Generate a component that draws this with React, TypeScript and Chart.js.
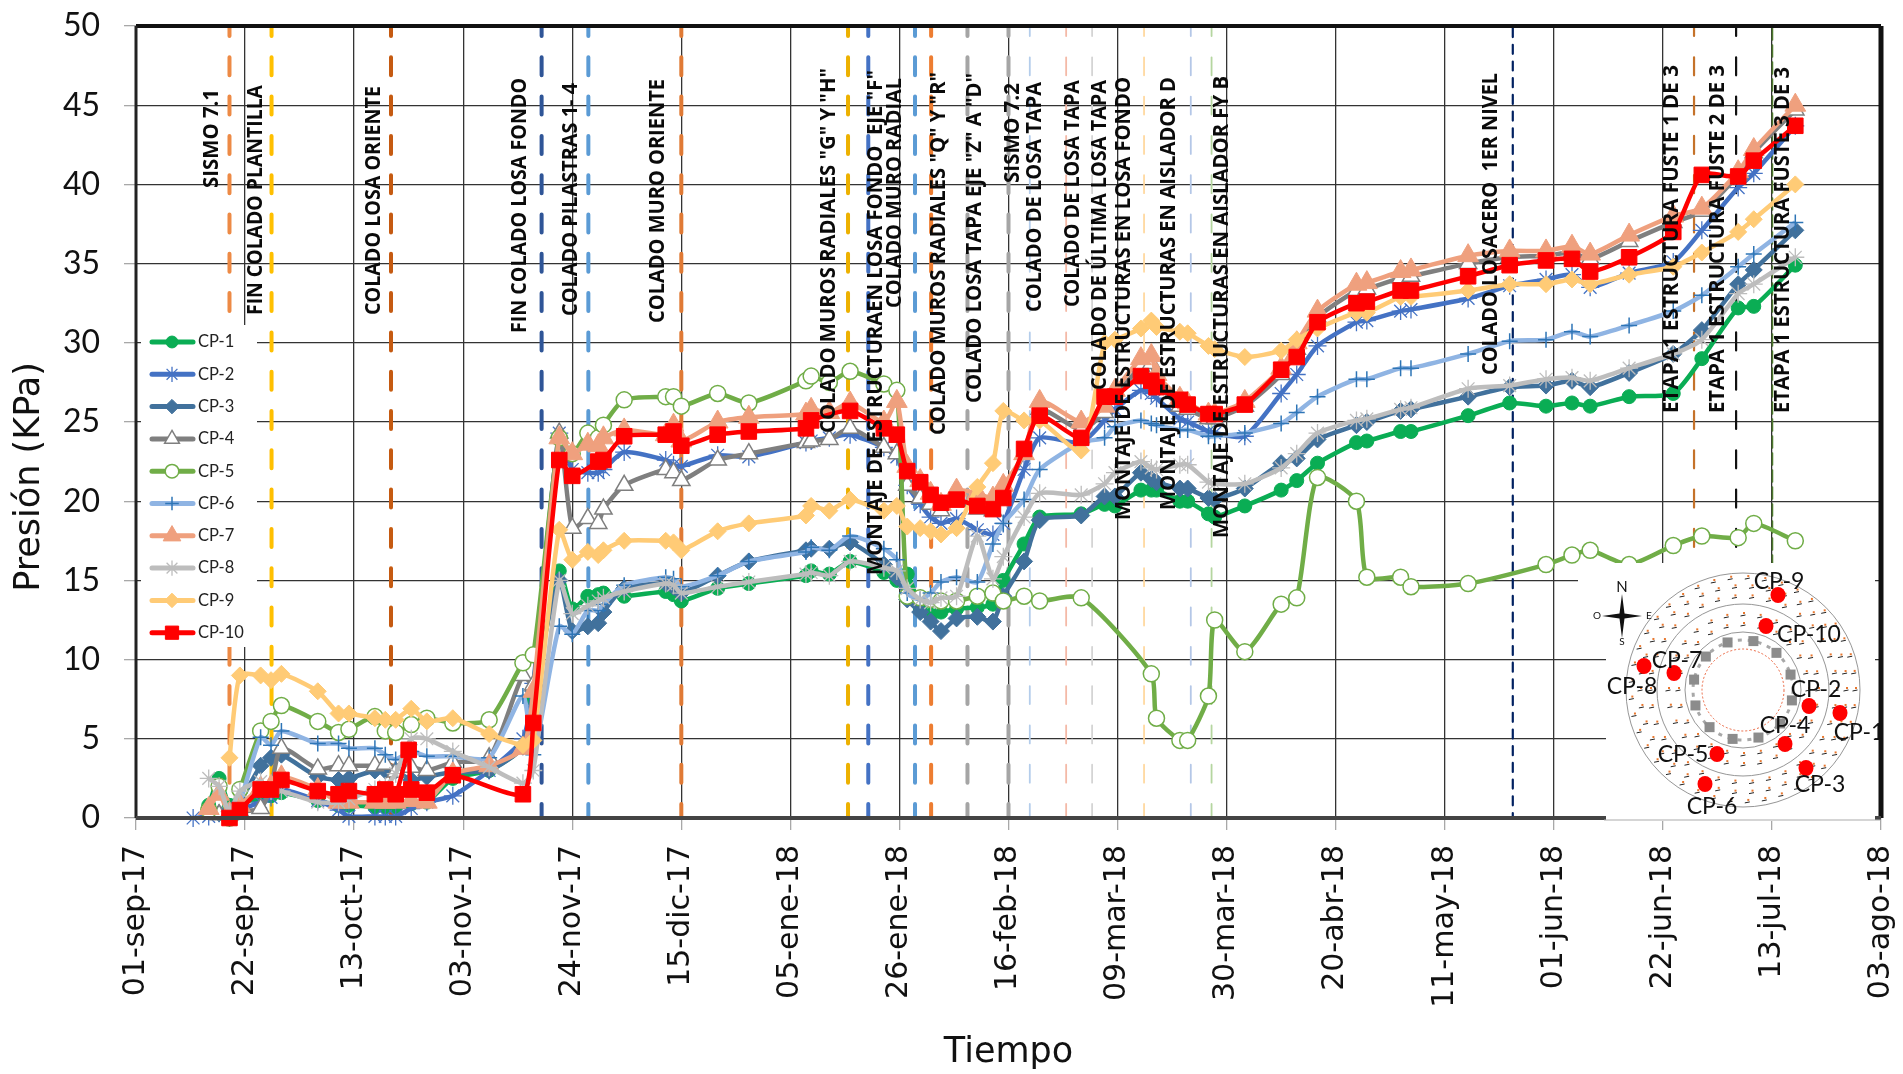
import React, { useEffect, useRef } from "react";
import { Chart, registerables } from "chart.js";
import { drawPoint } from "chart.js/helpers";

Chart.register(...registerables);

const tickDates = ["01-sep-17","22-sep-17","13-oct-17","03-nov-17","24-nov-17","15-dic-17","05-ene-18","26-ene-18","16-feb-18","09-mar-18","30-mar-18","20-abr-18","11-may-18","01-jun-18","22-jun-18","13-jul-18","03-ago-18"];

// days since 01-sep-17
const days = [
  11,14,16,18,20,24,26,28,35,39,
  41,46,48,50,52.5,53,56,61,68,74.5,76.5,
  81.5,84,87,89,90,94,102,103.5,105,112,
  118,129,130,133.5,137.5,144,146.5,148.5,151,153,
  155,158,162,165,167,171,174,182,186.5,188.5,
  193.5,195.5,196.5,201,202.5,206.5,207.7,213.5,220.5,223.5,
  227.5,235,237,243.5,245.5,256.5,264.5,271.5,276.5,280,
  287.5,296,301.5,308.5,311.5,319.5,
];

const cp1 = [
  null,0.8,2.5,0.8,1.0,1.2,1.4,1.6,1.1,0.8,
  0.8,0.7,0.7,0.7,null,0.9,1.0,2.5,3.0,4.5,7.5,
  15.6,13.2,14.0,14.1,14.2,14.0,14.3,14.1,13.7,14.5,
  14.8,15.3,15.6,15.4,16.2,15.5,15.0,15.4,13.3,12.8,
  13.0,13.2,13.3,13.5,15.0,17.3,19.0,19.2,19.8,19.7,
  20.7,20.7,20.7,20.0,20.0,19.2,19.0,19.7,20.7,21.3,
  22.4,23.7,23.8,24.4,24.4,25.4,26.2,26.0,26.2,26.0,
  26.6,26.8,29.0,32.2,32.3,34.9,
];
const cp2 = [
  0,0.1,0.3,0,0.5,1.0,1.3,1.8,1.1,0.5,
  0.1,0.1,0.1,0.1,null,0.6,1.0,1.4,3.0,5.0,8.5,
  24.3,22.0,21.8,21.8,22.0,23.1,22.6,22.3,22.2,22.9,
  22.8,23.7,23.8,24.0,24.2,23.4,22.8,21.0,19.8,19.0,
  18.6,18.9,18.2,17.9,18.6,22.0,24.0,23.7,25.1,25.8,
  27.0,26.8,26.5,25.2,25.0,24.4,24.3,24.1,26.8,28.0,
  29.8,31.3,31.4,32.0,32.1,32.8,33.6,34.0,34.3,33.5,
  34.4,35.1,37.1,39.8,40.7,43.7,
];
const cp3 = [
  null,null,0.3,0.2,1.0,3.3,3.8,4.0,2.6,2.4,
  2.5,3.0,3.0,3.0,null,2.4,2.6,2.9,3.0,4.5,8.0,
  15.0,11.8,12.1,12.3,13.0,14.5,14.8,14.6,14.2,15.3,
  16.2,16.9,17.0,17.0,17.4,16.0,15.2,13.8,13.0,12.4,
  11.8,12.6,12.7,12.4,14.0,16.2,18.8,19.1,20.3,20.3,
  21.8,21.4,21.2,20.8,20.8,20.2,20.1,20.8,22.4,22.7,
  23.9,24.8,25.0,25.7,25.8,26.6,27.2,27.3,27.6,27.2,
  28.1,29.3,30.8,33.7,34.6,37.1,
];
const cp4 = [
  null,null,0.2,0.2,0.4,0.6,2.0,4.4,3.1,3.3,
  3.3,3.3,3.4,2.9,null,3.2,3.0,3.5,3.8,9.0,8.4,
  24.3,18.3,18.9,18.6,19.5,21.0,22.0,21.8,21.3,22.6,
  23.0,23.7,23.8,23.9,24.6,23.4,23.0,21.0,20.2,19.8,
  19.4,20.0,19.5,19.4,20.5,23.0,25.8,24.5,25.6,26.6,
  28.5,28.7,27.5,26.0,25.8,25.2,25.2,26.0,28.0,29.6,
  31.6,33.3,33.4,34.1,34.2,35.0,35.4,35.5,35.7,35.3,
  36.4,37.6,38.3,40.6,42.0,44.7,
];
const cp5 = [
  null,0.5,2.0,0,1.8,5.5,6.1,7.1,6.1,5.4,
  5.6,6.4,5.5,5.4,null,5.9,6.3,6.0,6.2,9.8,10.3,
  24.0,23.0,24.3,24.0,24.8,26.4,26.6,26.6,26.0,26.8,
  26.2,27.6,27.9,27.5,28.2,27.4,27.0,14.0,13.9,13.8,
  13.7,13.7,14.0,14.2,13.7,14.0,13.7,13.9,null,null,
  null,9.1,6.3,4.9,4.9,7.7,12.5,10.5,13.5,13.9,
  21.5,20.0,15.2,15.2,14.6,14.8,null,16.0,16.6,16.9,
  16.0,17.2,17.8,17.7,18.6,17.5,
];
const cp6 = [
  null,null,null,0,1.0,5.1,4.6,5.5,4.7,4.7,
  4.4,4.4,4.0,3.7,null,4.2,3.9,3.9,3.8,7.7,4.0,
  12.1,11.6,13.1,13.1,13.5,14.7,15.2,15.1,14.6,15.3,
  16.2,16.8,17.1,16.9,17.8,17.0,16.3,14.2,13.8,14.2,
  14.9,15.2,14.9,17.3,18.6,20.1,22.0,23.7,24.0,24.7,
  25.1,24.9,24.8,24.5,24.5,24.1,24.1,24.3,24.9,25.6,
  26.6,27.7,27.7,28.4,28.4,29.3,30.1,30.2,30.7,30.4,
  31.1,32.0,33.0,34.8,35.6,37.6,
];
const cp7 = [
  null,0.6,1.5,0.3,0.8,1.9,2.0,2.6,1.8,1.0,
  1.0,1.0,1.0,1.0,null,1.1,1.0,2.8,3.3,4.4,8.0,
  24.0,23.0,23.6,23.5,24.0,24.5,24.2,24.8,23.8,25.0,
  25.3,25.5,25.8,25.6,26.2,25.0,26.3,22.2,21.3,20.5,
  19.8,20.7,20.5,20.2,21.0,23.0,26.3,25.0,26.0,27.0,
  29.0,29.2,28.0,26.5,26.2,25.5,25.5,26.3,28.4,30.0,
  32.0,33.7,33.8,34.5,34.6,35.5,35.8,35.8,36.1,35.6,
  36.8,38.0,38.5,40.8,42.2,45.0,
];
const cp8 = [
  null,2.5,2.0,0.4,1.7,2.3,1.7,1.7,1.0,1.0,
  1.2,1.8,2.0,2.8,null,5.0,5.0,4.2,3.2,2.2,3.0,
  15.0,12.9,13.4,13.7,13.9,14.3,14.8,14.7,14.2,14.6,
  14.9,15.4,15.5,15.3,16.2,15.8,15.6,14.5,13.8,13.6,
  13.9,14.0,17.8,15.1,16.5,19.0,20.5,20.4,21.1,21.8,
  22.5,22.1,22.0,22.3,22.3,21.2,21.1,21.1,22.1,23.0,
  24.3,25.1,25.2,25.8,25.9,27.1,27.3,27.7,27.8,27.6,
  28.4,29.3,30.2,33.1,33.7,35.4,
];
const cp9 = [
  null,null,null,3.8,9.0,9.0,8.7,9.1,8.0,6.6,
  6.6,6.3,6.2,6.2,null,6.9,6.1,6.3,5.3,4.6,4.9,
  18.2,16.3,16.8,16.6,16.9,17.5,17.5,17.4,16.9,18.1,
  18.6,19.1,19.7,19.4,20.1,19.4,19.7,18.4,18.3,18.1,
  17.9,18.3,20.9,22.4,25.7,25.1,25.1,23.2,30.0,30.2,
  30.9,31.4,31.0,30.7,30.6,29.8,29.6,29.1,29.5,30.2,
  30.9,31.9,31.9,32.9,32.9,33.3,33.7,33.7,34.0,33.7,
  34.3,34.8,35.7,37.0,37.8,40.0,
];
const cp10 = [
  null,null,null,0,0.5,1.8,1.8,2.4,1.7,1.5,
  1.7,1.5,1.8,1.5,4.3,1.8,1.6,2.7,null,1.5,6.0,
  22.6,21.6,null,22.5,22.6,24.1,24.2,24.4,23.5,24.2,
  24.4,24.6,25.1,null,25.7,24.6,24.2,21.9,21.2,20.4,
  19.9,20.1,19.7,19.5,20.2,23.3,25.4,24.0,26.6,26.6,
  27.9,27.6,27.2,26.4,26.1,25.5,25.5,26.1,28.3,29.1,
  31.3,32.5,32.6,33.3,33.3,34.2,34.9,35.2,35.3,34.5,
  35.4,37.0,40.6,40.5,41.5,43.7,
];

const seriesDefs = [
  { label: "CP-1", values: cp1, color: "#0AAD54", pointStyle: "circle", radius: 7, fill: "#0AAD54", edge: "#0AAD54", edgeW: 1 },
  { label: "CP-2", values: cp2, color: "#4472C4", pointStyle: "star", radius: 9, fill: "#4472C4", edge: "#4472C4", edgeW: 1.3 },
  { label: "CP-3", values: cp3, color: "#41719C", pointStyle: "rectRot", radius: 8.5, fill: "#41719C", edge: "#41719C", edgeW: 1 },
  { label: "CP-4", values: cp4, color: "#7F7F7F", pointStyle: "triangle", radius: 10, fill: "#FFFFFF", edge: "#7F7F7F", edgeW: 1.5 },
  { label: "CP-5", values: cp5, color: "#70AD47", pointStyle: "circle", radius: 8, fill: "#FFFFFF", edge: "#70AD47", edgeW: 1.5 },
  { label: "CP-6", values: cp6, color: "#8FB4E3", pointStyle: "cross", radius: 8, fill: "#2E75B6", edge: "#2E75B6", edgeW: 1.5 },
  { label: "CP-7", values: cp7, color: "#EFA07E", pointStyle: "triangle", radius: 12, fill: "#EFA07E", edge: "#EFA07E", edgeW: 1 },
  { label: "CP-8", values: cp8, color: "#BDBDBD", pointStyle: "star", radius: 9, fill: "#BDBDBD", edge: "#BDBDBD", edgeW: 1.3 },
  { label: "CP-9", values: cp9, color: "#FFCB76", pointStyle: "rectRot", radius: 8.5, fill: "#FFCB76", edge: "#FFCB76", edgeW: 1 },
  { label: "CP-10", values: cp10, color: "#FF0000", pointStyle: "rect", radius: 11, fill: "#FF0000", edge: "#FF0000", edgeW: 1 },
];

const eventDays = [18, 26.1, 49.1, 78.1, 87.1, 105, 137.1, 141, 150, 153.1, 160.1, 168, 172.1, 179.1, 184.1, 194.1, 203.1, 207.1, 265.1, 300, 308.1, 315.1];
const eventColors = ["#ED8A45","#FFC000","#C55A11","#2F5597","#5B9BD5","#E07A35","#EDB100","#4472C4","#5B9BD5","#ED7D31","#A5A5A5","#A5A5A5","#B4CDEB","#F4B9A7","#D4D4D4","#FFD9A0","#B4C7E7","#B5D6A0","#002060","#C5722A","#111111","#4E7A2E"];
const eventWidths = [4,4,4,4,4,4,4,4,4,4,4,4,1.8,1.8,1.8,1.8,1.8,1.8,2.2,2.2,2.2,1.6];

const eventTexts = [
  "SISMO 7.1","FIN COLADO PLANTILLA","COLADO LOSA ORIENTE","FIN COLADO LOSA FONDO","COLADO PILASTRAS 1- 4",
  "COLADO MURO ORIENTE","COLADO MUROS RADIALES \"G\" Y \"H\"","MONTAJE DE ESTRUCTURAEN LOSA FONDO  EJE \"F\"","COLADO MURO RADIAL",
  "COLADO MUROS RADIALES \"Q\" Y \"R\"","COLADO LOSA TAPA EJE \"Z\" A \"D\"","SISMO 7.2","COLADO DE LOSA TAPA","COLADO DE LOSA TAPA",
  "COLADO DE ÚLTIMA LOSA TAPA","MONTAJE DE ESTRUCTURAS EN LOSA FONDO","MONTAJE DE ESTRUCTURAS EN AISLADOR D","MONTAJE DE ESTRUCTURAS EN AISLADOR FY B",
  "COLADO LOSACERO  1ER NIVEL","ETAPA1 ESTRUCTURA FUSTE 1 DE 3","ETAPA 1 ESTRUCTURA FUSTE 2 DE 3","ETAPA 1 ESTRUCTURA FUSTE 3 DE 3",
];
const eventTextX = [212,256,374,520,571,658,829,876,895,939,975,1013,1035,1073,1100,1124,1169,1222,1491,1672,1718,1783];
const eventTextBottom = [188,315,315,333,316,323,433,575,308,435,403,183,312,307,390,520,510,538,375,413,413,413];
const eventTextLength = [99,230,229,255,233,244,365,505,230,363,330,100,230,227,310,443,433,462,302,348,348,346];

const insetDots = [[1840,713],[1809,706],[1806,768],[1785,744],[1717,754],[1705,784],[1674,673],[1644,666],[1778,595],[1766,626]];
const insetLabels = [[1859,733],[1816,690],[1820,785],[1785,726],[1683,755],[1712,807],[1677,661],[1632,687],[1779,582],[1809,635]];

const UI = "'Lato', sans-serif";
const DJ = "'DejaVu Sans', sans-serif";

function drawInset(ctx: CanvasRenderingContext2D) {
  ctx.save();
  ctx.fillStyle = "#fff";
  ctx.fillRect(1578, 563, 28, 30);
  ctx.fillRect(1606, 563, 269, 258);
  ctx.strokeStyle = "#ababab";
  ctx.lineWidth = 1.2;
  ctx.beginPath();
  ctx.moveTo(1604, 820);
  ctx.lineTo(1881, 820);
  ctx.stroke();

  const cx = 1743, cy = 690;
  // anchor ticks on radial spokes
  const rings = [65, 75, 93, 103, 112];
  rings.forEach((r) => {
    const n = Math.round((2 * Math.PI * r) / 17);
    for (let k = 0; k < n; k++) {
      const a = (k / n) * Math.PI * 2;
      const x = cx + Math.cos(a) * r, y = cy + Math.sin(a) * r;
      ctx.strokeStyle = "#222";
      ctx.lineWidth = 1;
      ctx.beginPath();
      ctx.moveTo(x - 2.5, y + 1);
      ctx.lineTo(x + 2.5, y);
      ctx.stroke();
      ctx.fillStyle = "#E8772E";
      ctx.fillRect(x, y - 3, 2, 2);
    }
  });
  ctx.strokeStyle = "#8a8a8a";
  ctx.lineWidth = 0.9;
  [117, 86, 58].forEach((r) => {
    ctx.beginPath();
    ctx.arc(cx, cy, r, 0, Math.PI * 2);
    ctx.stroke();
  });
  ctx.strokeStyle = "#E8572E";
  ctx.setLineDash([2, 2]);
  ctx.beginPath();
  ctx.arc(cx, cy, 41, 0, Math.PI * 2);
  ctx.stroke();
  ctx.setLineDash([4, 6]);
  ctx.strokeStyle = "#a8a8a8";
  ctx.lineWidth = 3;
  ctx.beginPath();
  ctx.arc(cx, cy, 50, 0, Math.PI * 2);
  ctx.stroke();
  ctx.setLineDash([]);
  ctx.fillStyle = "#8c8c8c";
  for (let k = 0; k < 12; k++) {
    const a = ((k + 0.4) / 12) * Math.PI * 2;
    ctx.fillRect(cx + Math.cos(a) * 50 - 5, cy + Math.sin(a) * 50 - 5, 10, 10);
  }

  // compass
  const qx = 1622, qy = 616;
  ctx.fillStyle = "#111";
  ctx.beginPath();
  ctx.moveTo(qx, qy - 22);
  ctx.lineTo(qx + 2.5, qy - 2.5);
  ctx.lineTo(qx + 20, qy);
  ctx.lineTo(qx + 2.5, qy + 2.5);
  ctx.lineTo(qx, qy + 22);
  ctx.lineTo(qx - 2.5, qy + 2.5);
  ctx.lineTo(qx - 20, qy);
  ctx.lineTo(qx - 2.5, qy - 2.5);
  ctx.closePath();
  ctx.fill();
  ctx.textAlign = "center";
  ctx.textBaseline = "middle";
  ctx.font = `15px ${UI}`;
  ctx.fillText("N", qx, 587);
  ctx.font = `10px ${UI}`;
  ctx.fillText("S", qx, 642);
  ctx.fillText("O", 1597, 616);
  ctx.fillText("E", 1649, 616);

  // instrument positions
  ctx.fillStyle = "#FF0000";
  insetDots.forEach(([x, y]) => {
    ctx.beginPath();
    ctx.ellipse(x, y, 7.5, 8, 0, 0, Math.PI * 2);
    ctx.fill();
  });
  ctx.fillStyle = "#111";
  ctx.font = `23px ${UI}`;
  seriesDefs.forEach((s, i) => {
    const [x, y] = insetLabels[i];
    ctx.fillText(s.label, x, y);
  });
  ctx.restore();
}

const overlay = {
  id: "overlay",
  afterDatasetsDraw(chart: any) {
    const { ctx, chartArea: a } = chart;
    ctx.save();

    // event captions
    ctx.fillStyle = "#0a0a0a";
    ctx.font = "700 21px 'Open Sans', sans-serif";
    ctx.textAlign = "left";
    ctx.textBaseline = "middle";
    eventTexts.forEach((t, i) => {
      const w = ctx.measureText(t).width;
      ctx.save();
      ctx.translate(eventTextX[i], eventTextBottom[i]);
      ctx.rotate(-Math.PI / 2);
      ctx.scale(eventTextLength[i] / w, 1);
      ctx.fillText(t, 0, 0);
      ctx.restore();
    });

    // frame
    ctx.strokeStyle = "#111";
    ctx.lineWidth = 4;
    ctx.beginPath();
    ctx.moveTo(a.left, a.top);
    ctx.lineTo(a.right, a.top);
    ctx.stroke();
    ctx.lineWidth = 5;
    ctx.beginPath();
    ctx.moveTo(a.right, a.top);
    ctx.lineTo(a.right, a.bottom);
    ctx.stroke();
    ctx.lineWidth = 3;
    ctx.strokeStyle = "#222";
    ctx.beginPath();
    ctx.moveTo(a.left, a.top);
    ctx.lineTo(a.left, a.bottom);
    ctx.stroke();
    ctx.strokeStyle = "#444";
    ctx.lineWidth = 4;
    ctx.beginPath();
    ctx.moveTo(a.left, a.bottom);
    ctx.lineTo(a.right, a.bottom);
    ctx.stroke();

    // legend panel
    ctx.fillStyle = "#fff";
    ctx.fillRect(141, 325, 116, 322);
    seriesDefs.forEach((s, i) => {
      const y = 342 + i * 32.3;
      ctx.strokeStyle = s.color;
      ctx.lineWidth = 5;
      ctx.lineCap = "round";
      ctx.beginPath();
      ctx.moveTo(152, y);
      ctx.lineTo(193, y);
      ctx.stroke();
      ctx.lineCap = "butt";
      ctx.fillStyle = s.fill;
      ctx.strokeStyle = s.edge;
      ctx.lineWidth = s.edgeW;
      drawPoint(ctx, { pointStyle: s.pointStyle, radius: s.radius * 0.85, borderWidth: s.edgeW, rotation: 0 }, 172, y);
      ctx.fillStyle = "#222";
      ctx.font = `16.5px ${UI}`;
      ctx.textAlign = "left";
      ctx.textBaseline = "middle";
      ctx.fillText(s.label, 198, y);
    });

    drawInset(ctx);

    // y title sits below the axis mid-point in the reference
    ctx.save();
    ctx.translate(30, 477);
    ctx.rotate(-Math.PI / 2);
    ctx.fillStyle = "#111";
    ctx.font = `35px ${DJ}`;
    ctx.textAlign = "center";
    ctx.textBaseline = "middle";
    ctx.fillText("Presión (KPa)", 0, 0);
    ctx.restore();
    ctx.restore();
  },
};

export default function App() {
  const ref = useRef<HTMLCanvasElement | null>(null);
  useEffect(() => {
    document.body.style.margin = "0";
    const eventSets = eventDays.map((d, i) => {
      const dash = i === 18 ? [9, 7.7] : i === 21 ? [12, 5] : [18, 21.3];
      return {
        label: "evento-" + i,
        data: [{ x: d, y: 0 }, { x: d, y: 50 }],
        borderColor: eventColors[i],
        borderWidth: eventWidths[i],
        borderDash: dash,
        borderDashOffset: 4,
        borderCapStyle: "round",
        pointRadius: 0,
        order: 100,
      };
    });
    const dataSets = seriesDefs.map((s, i) => ({
      label: s.label,
      data: days.map((d, k) => ({ x: d, y: s.values[k] })),
      borderColor: s.color,
      borderWidth: 4.5,
      tension: 0.22,
      spanGaps: true,
      clip: false,
      pointStyle: s.pointStyle,
      pointRadius: s.radius,
      pointBackgroundColor: s.fill,
      pointBorderColor: s.edge,
      pointBorderWidth: s.edgeW,
      order: 20 - i,
    }));
    const chart = new Chart(ref.current!, {
      type: "line",
      data: { datasets: [...dataSets, ...eventSets] as any },
      plugins: [overlay],
      options: {
        responsive: false,
        animation: false,
        parsing: false,
        normalized: true,
        layout: { autoPadding: false, padding: { left: 0, top: 26, right: 22, bottom: 0 } },
        plugins: { legend: { display: false }, tooltip: { enabled: false } },
        scales: {
          x: {
            type: "linear",
            min: 0,
            max: 336,
            afterFit: (s: any) => { s.height = 256; s.paddingLeft = 0; s.paddingRight = 0; },
            ticks: {
              stepSize: 21,
              autoSkip: false,
              minRotation: 90,
              maxRotation: 90,
              padding: 15,
              color: "#111",
              font: { family: "'DejaVu Sans', sans-serif", size: 30 },
              callback: (v: any) => tickDates[Math.round(v / 21)],
            },
            grid: { color: "#333", lineWidth: 1.3, tickColor: "#a8a8a8", tickLength: 12 },
            border: { display: false },
            title: {
              display: true,
              text: "Tiempo",
              color: "#111",
              font: { family: "'DejaVu Sans', sans-serif", size: 35 },
              padding: { top: 0, bottom: 0 },
            },
          },
          y: {
            min: 0,
            max: 50,
            afterFit: (s: any) => { s.width = 136; s.paddingTop = 0; s.paddingBottom = 0; },
            ticks: {
              stepSize: 5,
              padding: 24,
              color: "#111",
              font: { family: "'Lato', sans-serif", size: 32 },
            },
            grid: { color: "#333", lineWidth: 1.3, tickColor: "#a8a8a8", tickLength: 12 },
            border: { display: false },
          },
        },
      },
    } as any);
    return () => chart.destroy();
  }, []);
  return <canvas ref={ref} width={1903} height={1074} style={{ display: "block" }} />;
}
